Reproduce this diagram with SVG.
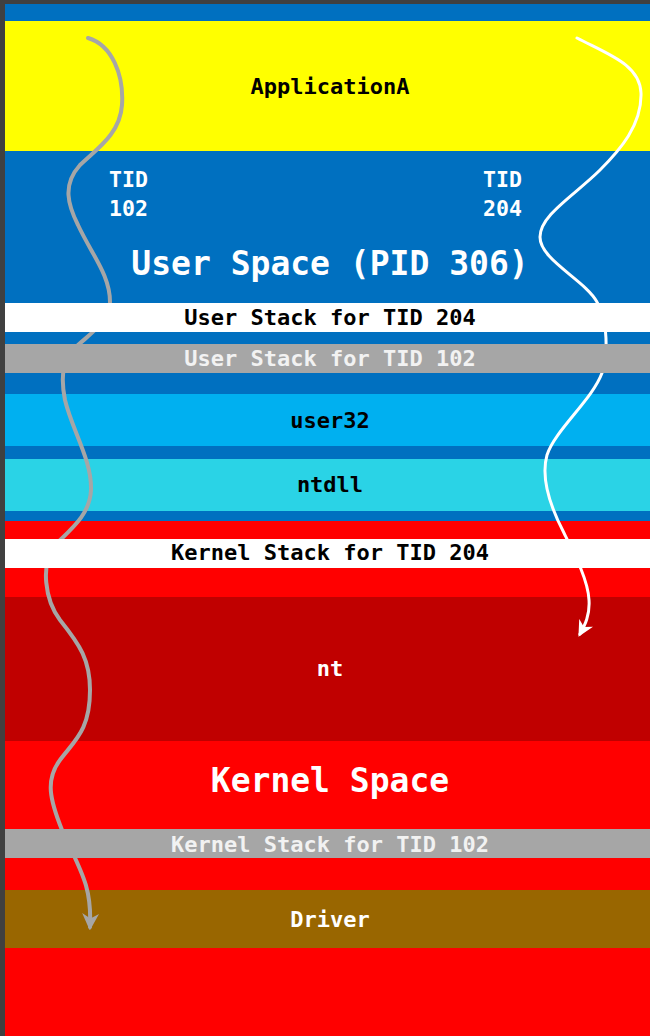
<svg xmlns="http://www.w3.org/2000/svg" width="650" height="1036" viewBox="0 0 650 1036">
<defs>
<style>
text{font-family:"DejaVu Sans Mono","Liberation Mono",monospace;font-weight:bold;text-anchor:middle}
.s{font-size:22px}
.b{font-size:33px}
.t{font-size:21.5px;text-anchor:start}
.k{fill:#000}
.w{fill:#fff}
.lw{fill:#f2f2f2}
.wire{fill:none;stroke-linecap:round}
</style>
<marker id="ag" viewBox="0 0 10 10" refX="8" refY="5" markerWidth="17" markerHeight="17" markerUnits="userSpaceOnUse" orient="auto">
<path d="M0,0 L10,5 L0,10 L3,5 z" fill="#a6a6a6"/>
</marker>
<marker id="aw" viewBox="0 0 10 10" refX="8" refY="5" markerWidth="16" markerHeight="16" markerUnits="userSpaceOnUse" orient="auto">
<path d="M0,0 L10,5 L0,10 L3,5 z" fill="#fff"/>
</marker>
</defs>
<rect x="0" y="0" width="650" height="1036" fill="#404040"/>
<rect x="5" y="4" width="645" height="1032" fill="#0070c0"/>
<rect x="5" y="521" width="645" height="515" fill="#ff0000"/>
<g id="app"><rect x="5" y="21" width="645" height="130" fill="#ffff00"/><text class="s k" x="330" y="94">ApplicationA</text></g>
<g id="userspace"><text class="b w" x="330" y="275">User Space (PID 306)</text></g>
<g id="tid102"><text class="t w" x="109" y="187">TID</text><text class="t w" x="109" y="216">102</text></g>
<g id="tid204"><text class="t w" x="483" y="187">TID</text><text class="t w" x="483" y="216">204</text></g>
<g id="user32"><rect x="5" y="394" width="645" height="52" fill="#00b0f0"/><text class="s k" x="330" y="428">user32</text></g>
<g id="ntdll"><rect x="5" y="459" width="645" height="52" fill="#2ad3e6"/><text class="s k" x="330" y="492">ntdll</text></g>
<g id="nt"><rect x="5" y="597" width="645" height="144" fill="#c00000"/><text class="s w" x="330" y="676">nt</text></g>
<g id="kernelspace"><text class="b w" x="330" y="792">Kernel Space</text></g>
<g id="driver"><rect x="5" y="890" width="645" height="58" fill="#996600"/><text class="s w" x="330" y="927">Driver</text></g>
<g id="connectors">
<path class="wire" stroke="#a6a6a6" stroke-width="4" marker-end="url(#ag)" d="M88,38 C112,45 124,75 122,105 C120,135 95,150 80,165 C62,185 68,205 78,225 C92,255 110,275 110,302 C110,320 95,330 78,345 C63,358 60,375 65,400 C72,430 92,460 91,490 C90,515 70,530 55,545 C40,565 45,600 60,620 C80,645 90,660 90,690 C90,730 75,740 60,760 C45,780 50,800 62,830 C80,870 92,885 90,927"/>
<path class="wire" stroke="#fff" stroke-width="3" marker-end="url(#aw)" d="M577,38 C610,55 640,65 641,93 C642,125 620,150 600,170 C575,195 540,215 540,237 C540,260 585,280 597,302 C605,315 610,345 602,373 C592,400 555,430 547,455 C540,480 552,510 564,533 C575,555 588,580 589,600 C590,615 585,625 580,634"/>
</g>
<g id="ustack204"><rect x="5" y="303" width="645" height="29" fill="#fff"/><text class="s k" x="330" y="325">User Stack for TID 204</text></g>
<g id="ustack102"><rect x="5" y="344" width="645" height="29" fill="#a6a6a6"/><text class="s lw" x="330" y="366">User Stack for TID 102</text></g>
<g id="kstack204"><rect x="5" y="539" width="645" height="29" fill="#fff"/><text class="s k" x="330" y="560">Kernel Stack for TID 204</text></g>
<g id="kstack102"><rect x="5" y="829" width="645" height="29" fill="#a6a6a6"/><text class="s lw" x="330" y="852">Kernel Stack for TID 102</text></g>
</svg>
